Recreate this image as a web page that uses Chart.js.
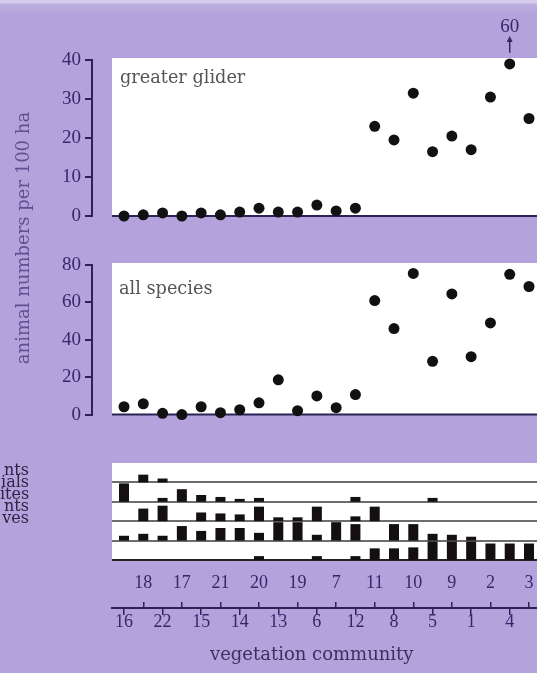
<!DOCTYPE html>
<html lang="en">
<head>
<meta charset="UTF-8">
<title>greater glider / all species by vegetation community</title>
<script src="https://cdn.jsdelivr.net/npm/chart.js"></script>
<style>
*{margin:0;padding:0;box-sizing:border-box;}
html,body{width:537px;height:673px;overflow:hidden;}
body{background:#b3a2db;position:relative;font-family:'DejaVu Serif',serif;}
.topband{position:absolute;left:0;top:0;width:537px;height:14px;background:linear-gradient(#d4cce8 0,#d4cce8 3px,#bdafe0 4px,#b3a2db 14px);}
canvas{position:absolute;left:0;}
.lbl{position:absolute;white-space:nowrap;line-height:18px;}
.panel{font-size:17.7px;color:#555;}
.row{left:0;width:29px;text-align:right;font-size:16px;line-height:12px;color:#2a2545;}
#ytitle{left:-127px;top:229px;width:300px;text-align:center;font-size:18px;color:#5f5092;transform:rotate(-90deg);}
#xtitle{left:210px;top:645px;font-size:18px;color:#3d3060;}
</style>
</head>
<body>
<div class="topband"></div>
<canvas id="c1" width="537" height="232" style="top:0"></canvas>
<canvas id="c2" width="537" height="190" style="top:240px"></canvas>
<canvas id="c3" width="537" height="115" style="top:455px"></canvas>
<canvas id="c4" width="537" height="85" style="top:560px"></canvas>

<div class="lbl panel" style="left:120px;top:68px">greater glider</div>
<div class="lbl panel" style="left:119px;top:279px">all species</div>
<div class="lbl" id="ytitle">animal numbers per 100 ha</div>
<div class="lbl row" style="top:464px">nts</div>
<div class="lbl row" style="top:476px">ials</div>
<div class="lbl row" style="top:488px">ites</div>
<div class="lbl row" style="top:500px">nts</div>
<div class="lbl row" style="top:512px">ves</div>
<div class="lbl" id="xtitle">vegetation community</div>

<script>
// vegetation communities, left to right
const communities=['16','18','22','17','15','21','14','20','13','19','6','7','12','11','8','10','5','9','1','2','4','3'];
// animals per 100 ha
const glider=[0,0.3,0.8,0,0.8,0.3,1,2,1,1,2.8,1.3,2,23,19.5,31.5,16.5,20.5,17,30.5,60,25];
const allSpecies=[4.2,5.8,0.7,0,4.2,1,2.6,6.3,18.6,2.1,10,3.7,10.7,61,46,75.5,28.5,64.5,31,49,75,68.5];
// bar rows, top to bottom
const rowNames=['nts','ials','ites','nts','ves'];
const rowA=[0,8,4,0,0,0,0,0,0,0,0,0,0,0,0,0,0,0,0,0,0,0];
const rowB=[19,0,4,13,7,5,3,4,0,0,0,0,5,0,0,0,4,0,0,0,0,0];
const rowC=[0,13,16,0,9,8,7,15,4,4,15,0,5,15,0,0,0,0,0,0,0,0];
const rowD=[5,7,5,15,10,13,13,8,19,19,6,19,17,0,17,17,7,6,4,0,0,0];
const rowE=[0,0,0,0,0,0,0,4,0,0,4,0,4,12,12,13,19,19,19,17,17,17];
const gliderTicks=[0,10,20,30,40];
const allTicks=[0,20,40,60,80];

const AXIS='#2d2255',TICK='#35286a',DOT='#111',BAR='#141010';
const ROW_SPAN=20, GLIDER_CAP=39;
const FIRST_X=124, LAST_X=529, RIGHT=537;
const digitFont={family:'Liberation Serif',size:19};

function xRange(areaLeft){
    const pitch=(LAST_X-FIRST_X)/(communities.length-1);
    return {min:-(FIRST_X-areaLeft)/pitch,max:communities.length-1+(RIGHT-LAST_X)/pitch,offset:false};
}

function plotBox(opts){
    return {id:'plotBox',beforeDraw(chart){
        const a=chart.chartArea,c=chart.ctx,left=a.left+(opts.inset||0);
        c.save();
        c.fillStyle='#fff';
        c.fillRect(left,a.top-(opts.lift||0),a.right-left,a.bottom-a.top+(opts.lift||0));
        if(opts.baseline){c.strokeStyle=AXIS;c.lineWidth=2;c.beginPath();c.moveTo(left,a.bottom);c.lineTo(a.right,a.bottom);c.stroke();}
        if(opts.rows){
            const y=chart.scales.y;
            for(let r=0;r<opts.rows;r++){
                const py=Math.round(y.getPixelForValue(r*ROW_SPAN));
                c.strokeStyle=r===0?'#222':'#3c3c3c';c.lineWidth=r===0?2:1.3;
                c.beginPath();c.moveTo(left,py);c.lineTo(a.right,py);c.stroke();
            }
        }
        c.restore();
    }};
}

// arrow + true value for points beyond the axis
const overflowMark={id:'overflowMark',afterDatasetsDraw(chart){
    const meta=chart.getDatasetMeta(0),c=chart.ctx;
    glider.forEach((v,i)=>{
        if(v<=GLIDER_CAP)return;
        const p=meta.data[i];
        c.save();
        c.strokeStyle=TICK;c.fillStyle=TICK;c.lineWidth=1.5;
        c.beginPath();c.moveTo(p.x,p.y-11);c.lineTo(p.x,p.y-25);c.stroke();
        c.beginPath();c.moveTo(p.x,p.y-28);c.lineTo(p.x-3,p.y-22);c.lineTo(p.x+3,p.y-22);c.closePath();c.fill();
        c.font='19px "Liberation Serif"';c.textAlign='center';c.textBaseline='middle';
        c.fillText(String(v),p.x,p.y-37);
        c.restore();
    });
}};

function yAxis(max,ticks){
    return {min:0,max:max,afterFit:s=>{s.width=92;},
        afterBuildTicks:s=>{s.ticks=ticks.map(v=>({value:v}));},
        ticks:{color:TICK,font:digitFont,padding:4},
        grid:{drawOnChartArea:false,drawTicks:true,tickLength:7,color:AXIS,lineWidth:2},
        border:{display:true,color:AXIS,width:2}};
}

function dotChart(id,values,cap,max,ticks,pad,extra){
    return new Chart(document.getElementById(id),{
        type:'scatter',
        data:{datasets:[{data:values.map((v,i)=>({x:i,y:Math.min(v,cap)})),backgroundColor:DOT,borderWidth:0,pointRadius:5.5,clip:false}]},
        options:{responsive:false,animation:false,layout:{padding:pad,autoPadding:false},
            plugins:{legend:{display:false},tooltip:{enabled:false}},
            scales:{x:Object.assign({type:'linear',display:false},xRange(92)),y:yAxis(max,ticks)}},
        plugins:[plotBox({inset:20,lift:2,baseline:true})].concat(extra)
    });
}

dotChart('c1',glider,GLIDER_CAP,40,gliderTicks,{top:60,bottom:16,left:0,right:0},[overflowMark]);
dotChart('c2',allSpecies,Infinity,80,allTicks,{top:25,bottom:12,left:0,right:0},[]);

const rows=[rowA,rowB,rowC,rowD,rowE];
new Chart(document.getElementById('c3'),{
    type:'bar',
    data:{datasets:rows.map((vals,r)=>{
        const base=(rows.length-1-r)*ROW_SPAN;
        return {label:rowNames[r],data:vals.map((v,i)=>({x:i,y:[base,base+v]})).filter(d=>d.y[1]>d.y[0]),
            backgroundColor:BAR,borderWidth:0,barThickness:10,grouped:false,inflateAmount:0};
    })},
    options:{responsive:false,animation:false,layout:{padding:{top:8,bottom:10,left:112,right:0},autoPadding:false},
        plugins:{legend:{display:false},tooltip:{enabled:false}},
        scales:{x:Object.assign({type:'linear',display:false},xRange(112)),
            y:{display:false,min:0,max:rows.length*ROW_SPAN}}},
    plugins:[plotBox({rows:rows.length})]
});

// community axis: two rows of labels sharing one line
function commAxis(pos,parity,height,pad,border){
    return Object.assign({type:'linear',position:pos,afterFit:s=>{s.height=height;s.paddingLeft=0;s.paddingRight=0;},
        afterBuildTicks:s=>{s.ticks=communities.map((c,i)=>({value:i})).filter(t=>t.value%2===parity);},
        ticks:{autoSkip:false,maxRotation:0,color:TICK,font:{family:'Liberation Serif',size:18,lineHeight:1},padding:pad,callback:v=>communities[v]},
        grid:{drawOnChartArea:false,drawTicks:true,tickLength:6,color:AXIS,lineWidth:1.5},
        border:{display:border,color:AXIS,width:2}},xRange(112));
}
new Chart(document.getElementById('c4'),{
    type:'scatter',
    data:{datasets:[]},
    options:{responsive:false,animation:false,layout:{padding:{top:0,bottom:0,left:112,right:0},autoPadding:false},
        plugins:{legend:{display:false},tooltip:{enabled:false}},
        scales:{x:commAxis('bottom',0,36,-2,false),x2:commAxis('top',1,48,10,true),y:{display:false}}}
});
</script>
</body>
</html>
